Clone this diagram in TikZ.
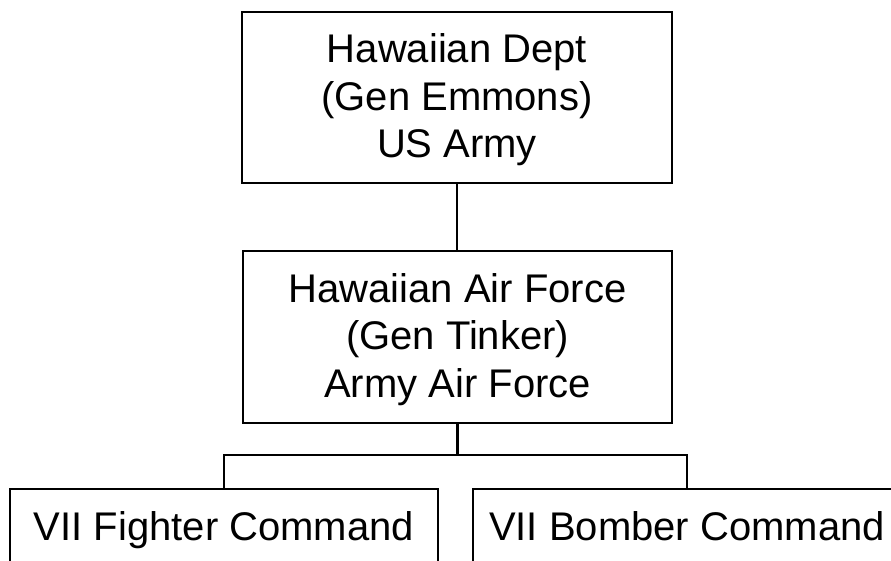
\documentclass[tikz,border=0pt]{standalone}
\usepackage{fontspec}
\setmainfont{Liberation Sans}
\begin{document}
\begin{tikzpicture}[x=1pt,y=-1pt,
  orgbox/.style={draw=black, line width=2.8pt, rectangle, inner sep=0pt, outer sep=0pt,
    align=center, font=\fontsize{40}{47.5}\selectfont},
  link/.style={draw=black, line width=2.8pt}]
\useasboundingbox (0,0) rectangle (891,561);
\node[orgbox, minimum width=430pt, minimum height=171pt] (dept) at (457,97.5)
  {Hawaiian Dept\\(Gen Emmons)\\US \smash{Army}\rule[-3pt]{0pt}{3pt}};
\node[orgbox, minimum width=429pt, minimum height=172pt] (haf) at (457.5,337)
  {Hawaiian Air Force\\(Gen Tinker)\\\smash{Army} Air Force\rule[-3pt]{0pt}{3pt}};
\node[orgbox, minimum width=428pt, minimum height=74pt, text height=28.6pt, text depth=0pt] (fighter) at (224,526)
  {VII Fighter Command};
\node[orgbox, minimum width=428pt, minimum height=74pt, text height=28.6pt, text depth=0pt] (bomber) at (687,526)
  {VII Bomber Command};
\coordinate (j) at (457,455);
\draw[link] (dept.south) -- (dept.south |- haf.north);
\draw[link] (haf.south) -- (haf.south |- j);
\draw[link] (haf.south |- j) -| (fighter.north);
\draw[link] (haf.south |- j) -| (bomber.north);
\end{tikzpicture}
\end{document}
